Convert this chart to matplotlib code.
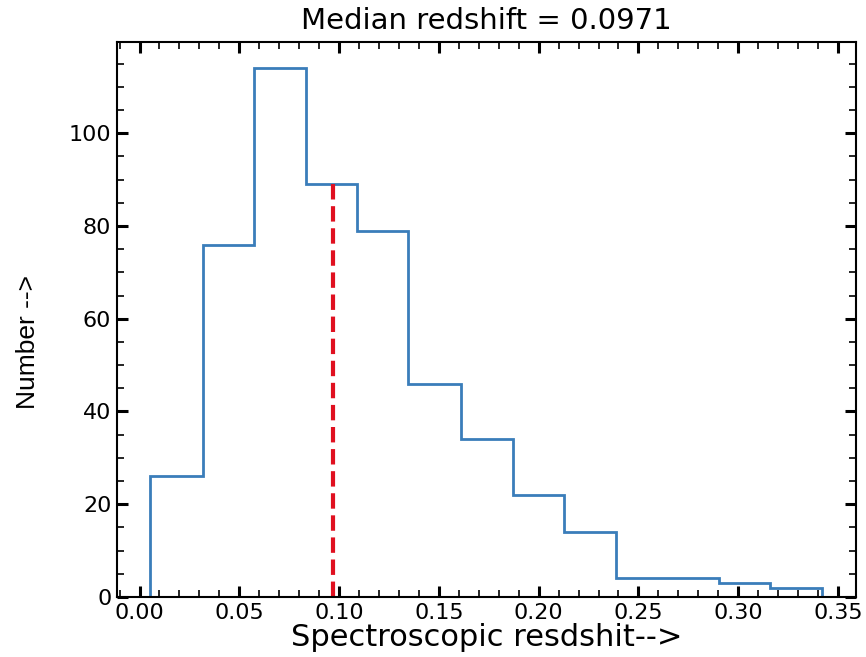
import matplotlib
matplotlib.use("Agg")
import matplotlib.pyplot as plt
from matplotlib.ticker import MultipleLocator, FormatStrFormatter

# histogram
bin_edges = [0.0055, 0.0320, 0.0574, 0.0832, 0.1090, 0.1345, 0.1610, 0.1870,
             0.2127, 0.2389, 0.2645, 0.2905, 0.3160, 0.3420]
counts = [26, 76, 114, 89, 79, 46, 34, 22, 14, 4, 4, 3, 2]
median_z = 0.0971
median_count = 89  # height of the bin holding the median

fig = plt.figure(figsize=(8.66, 6.57), dpi=100)
ax = fig.add_axes([0.135, 0.0913, 0.853, 0.845])

ax.stairs(counts, bin_edges, color="#3a7dba", linewidth=2)
ax.vlines(median_z, 0, median_count, colors="#e01020", linestyles="--", linewidth=3)

span = bin_edges[-1] - bin_edges[0]
ax.set_xlim(bin_edges[0] - 0.05 * span, bin_edges[-1] + 0.05 * span)
ax.set_ylim(0, max(counts) * 1.05)

ax.xaxis.set_major_locator(MultipleLocator(0.05))
ax.xaxis.set_minor_locator(MultipleLocator(0.01))
ax.yaxis.set_major_locator(MultipleLocator(20))
ax.yaxis.set_minor_locator(MultipleLocator(5))
ax.xaxis.set_major_formatter(FormatStrFormatter("%.2f"))

ax.tick_params(which="both", direction="in", top=True, right=True)
ax.tick_params(which="major", length=8, width=2.2, labelsize=16, pad=4)
ax.tick_params(which="minor", length=5, width=1.2)
for s in ax.spines.values():
    s.set_linewidth(1.5)

ax.set_title("Median redshift = 0.0971", fontsize=21, pad=9)
ax.set_xlabel("Spectroscopic resdshit-->", fontsize=22, labelpad=0)
ax.set_ylabel("Number -->", fontsize=19,
              family=["Liberation Sans Narrow", "Liberation Sans"])
ax.yaxis.set_label_coords(-0.104, 0.46)

fig.savefig("out.png", dpi=100)
